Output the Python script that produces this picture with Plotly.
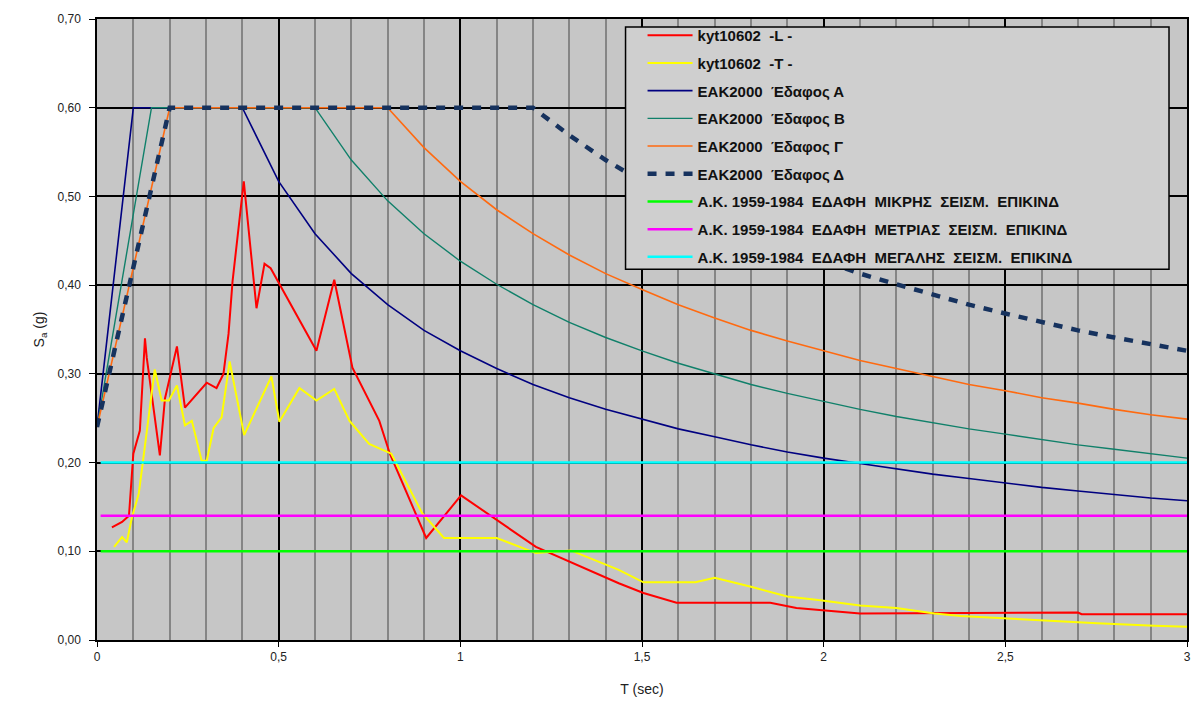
import plotly.graph_objects as go

# ---------------- data ----------------
L_T = [0.041, 0.069, 0.088, 0.095, 0.100, 0.118, 0.132, 0.137, 0.146, 0.173, 0.187, 0.220,
       0.242, 0.275, 0.302, 0.329, 0.348, 0.362, 0.373, 0.404, 0.439, 0.461, 0.478, 0.604,
       0.653, 0.703, 0.777, 0.806, 0.906, 1.002, 1.208, 1.436, 1.504, 1.595, 1.853, 1.925,
       1.985, 2.100, 2.700, 2.710, 3.000]
L_S = [0.127, 0.133, 0.140, 0.180, 0.210, 0.236, 0.340, 0.318, 0.289, 0.208, 0.272, 0.331,
       0.262, 0.277, 0.290, 0.284, 0.300, 0.345, 0.404, 0.517, 0.374, 0.424, 0.419, 0.326,
       0.406, 0.307, 0.247, 0.210, 0.115, 0.163, 0.105, 0.064, 0.053, 0.042, 0.042, 0.036,
       0.034, 0.030, 0.031, 0.029, 0.029]

T_T = [0.047, 0.069, 0.082, 0.096, 0.115, 0.137, 0.159, 0.178, 0.198, 0.220, 0.242, 0.261,
       0.288, 0.302, 0.321, 0.343, 0.365, 0.405, 0.480, 0.502, 0.557, 0.604, 0.653, 0.695,
       0.749, 0.810, 0.895, 0.955, 1.100, 1.208, 1.304, 1.436, 1.504, 1.647, 1.700, 1.800,
       1.900, 1.985, 2.100, 2.200, 2.305, 2.377, 2.506, 2.663, 2.753, 2.910, 3.000]
T_S = [0.105, 0.116, 0.110, 0.138, 0.165, 0.236, 0.305, 0.270, 0.270, 0.287, 0.242, 0.247,
       0.202, 0.202, 0.239, 0.251, 0.314, 0.231, 0.297, 0.246, 0.284, 0.270, 0.283, 0.247,
       0.221, 0.210, 0.143, 0.115, 0.115, 0.098, 0.101, 0.079, 0.065, 0.065, 0.070, 0.060,
       0.049, 0.045, 0.039, 0.036, 0.030, 0.027, 0.024, 0.021, 0.019, 0.016, 0.015]

A_T = [0, 0.1, 0.4, 0.5, 0.6, 0.7, 0.8, 0.9, 1.0, 1.1, 1.2, 1.3, 1.4, 1.5, 1.6, 1.7, 1.8,
       1.9, 2.0, 2.1, 2.2, 2.3, 2.4, 2.5, 2.6, 2.7, 2.8, 2.9, 3.0]
A_S = [0.24, 0.60, 0.600, 0.517, 0.458, 0.413, 0.378, 0.349, 0.326, 0.306, 0.288, 0.273,
       0.260, 0.249, 0.238, 0.229, 0.220, 0.212, 0.205, 0.199, 0.193, 0.187, 0.182, 0.177,
       0.172, 0.168, 0.164, 0.160, 0.157]

B_T = [0, 0.15, 0.6, 0.7, 0.8, 0.9, 1.0, 1.1, 1.2, 1.3, 1.4, 1.5, 1.6, 1.7, 1.8, 1.9, 2.0,
       2.1, 2.2, 2.3, 2.4, 2.5, 2.6, 2.7, 2.8, 2.9, 3.0]
B_S = [0.24, 0.60, 0.600, 0.541, 0.495, 0.458, 0.427, 0.401, 0.378, 0.358, 0.341, 0.326,
       0.312, 0.300, 0.288, 0.278, 0.269, 0.260, 0.252, 0.245, 0.238, 0.232, 0.226, 0.220,
       0.215, 0.210, 0.205]

G_T = [0, 0.2, 0.8, 0.9, 1.0, 1.1, 1.2, 1.3, 1.4, 1.5, 1.6, 1.7, 1.8, 1.9, 2.0, 2.1, 2.2,
       2.3, 2.4, 2.5, 2.6, 2.7, 2.8, 2.9, 3.0]
G_S = [0.24, 0.60, 0.600, 0.555, 0.517, 0.485, 0.458, 0.434, 0.413, 0.395, 0.378, 0.363,
       0.349, 0.337, 0.326, 0.315, 0.306, 0.297, 0.288, 0.281, 0.273, 0.267, 0.260, 0.254,
       0.249]

D_T = [0, 0.2, 1.2, 1.3, 1.4, 1.5, 1.6, 1.7, 1.8, 1.9, 2.0, 2.1, 2.2, 2.3, 2.4, 2.5, 2.6,
       2.7, 2.8, 2.9, 3.0]
D_S = [0.24, 0.60, 0.600, 0.569, 0.541, 0.517, 0.495, 0.476, 0.458, 0.442, 0.427, 0.413,
       0.401, 0.389, 0.378, 0.368, 0.358, 0.349, 0.341, 0.333, 0.326]

H_T = [0.01, 3.0]
H_SMALL = [0.10, 0.10]
H_MEDIUM = [0.14, 0.14]
H_LARGE = [0.20, 0.20]

NAMES = [
    "kyt10602  -L -",
    "kyt10602  -T -",
    "ΕΑΚ2000  Έδαφος Α",
    "ΕΑΚ2000  Έδαφος Β",
    "ΕΑΚ2000  Έδαφος Γ",
    "ΕΑΚ2000  Έδαφος Δ",
    "Α.Κ. 1959-1984  ΕΔΑΦΗ  ΜΙΚΡΗΣ  ΣΕΙΣΜ.  ΕΠΙΚΙΝΔ",
    "Α.Κ. 1959-1984  ΕΔΑΦΗ  ΜΕΤΡΙΑΣ  ΣΕΙΣΜ.  ΕΠΙΚΙΝΔ",
    "Α.Κ. 1959-1984  ΕΔΑΦΗ  ΜΕΓΑΛΗΣ  ΣΕΙΣΜ.  ΕΠΙΚΙΝΔ",
]
X_TICKS = [0, 0.5, 1, 1.5, 2, 2.5, 3]
Y_TICKS = [0, 0.1, 0.2, 0.3, 0.4, 0.5, 0.6, 0.7]

# ---------------- figure ----------------
series = [
    (L_T, L_S, "#ff0000", 2, "solid"),
    (T_T, T_S, "#ffff00", 2, "solid"),
    (A_T, A_S, "#000080", 1.6, "solid"),
    (B_T, B_S, "#10806a", 1.4, "solid"),
    (G_T, G_S, "#ff6a10", 1.6, "solid"),
    (D_T, D_S, "#16325e", 4.5, "9px,9px"),
    (H_T, H_SMALL, "#00ff00", 2.5, "solid"),
    (H_T, H_MEDIUM, "#ff00ff", 2.5, "solid"),
    (H_T, H_LARGE, "#00ffff", 2.5, "solid"),
]

fig = go.Figure()
for i, (xs, ys, col, w, dash) in enumerate(series):
    fig.add_trace(go.Scatter(
        x=xs, y=ys, mode="lines", name=NAMES[i], legendgroup=f"g{i}",
        line=dict(color=col, width=w, dash=dash),
    ))

FONT = "Liberation Sans, Arial, sans-serif"

fig.update_layout(
    width=1203, height=713,
    margin=dict(l=97, r=13, t=17, b=73),
    paper_bgcolor="white",
    plot_bgcolor="#c6c6c6",
    separators=",.",
    font=dict(family=FONT, size=12, color="#222222"),
    showlegend=True,
    legend=dict(
        x=0.5005, y=1.0, xanchor="left", yanchor="top",
        bgcolor="rgba(0,0,0,0)", borderwidth=0,
        font=dict(family=FONT, size=15, color="#111111", weight="bold"),
        traceorder="grouped", tracegroupgap=5.2, itemwidth=45,
    ),
    shapes=[dict(
        type="rect", xref="paper", yref="paper",
        x0=0.4849, x1=0.9835, y0=0.5971, y1=0.9872,
        fillcolor="#cfcfcf", line=dict(color="#000000", width=1.5), layer="above",
    )],
)

fig.update_xaxes(
    range=[0, 3], tickvals=X_TICKS,
    showline=True, linecolor="#000000", linewidth=1.5, mirror=True,
    ticks="outside", ticklen=5, tickcolor="#000000",
    showgrid=True, gridcolor="#000000", gridwidth=1.5,
    minor=dict(dtick=0.1, showgrid=True, gridcolor="#858585", gridwidth=1.5),
    zeroline=False,
    tickfont=dict(size=12, color="#222222"),
    title=dict(text="T (sec)", font=dict(size=14, color="#222222"), standoff=21),
)
fig.update_yaxes(
    range=[0, 0.7], tickvals=Y_TICKS, tickformat=".2f",
    showline=True, linecolor="#000000", linewidth=1.5, mirror=True,
    ticks="outside", ticklen=6, tickcolor="#000000", ticklabelstandoff=6,
    showgrid=True, gridcolor="#000000", gridwidth=1.5,
    zeroline=False,
    tickfont=dict(size=12, color="#222222"),
    title=dict(text="S<sub>a</sub> (g)", font=dict(size=14, color="#222222"), standoff=10),
)

fig.write_html("out.html")
